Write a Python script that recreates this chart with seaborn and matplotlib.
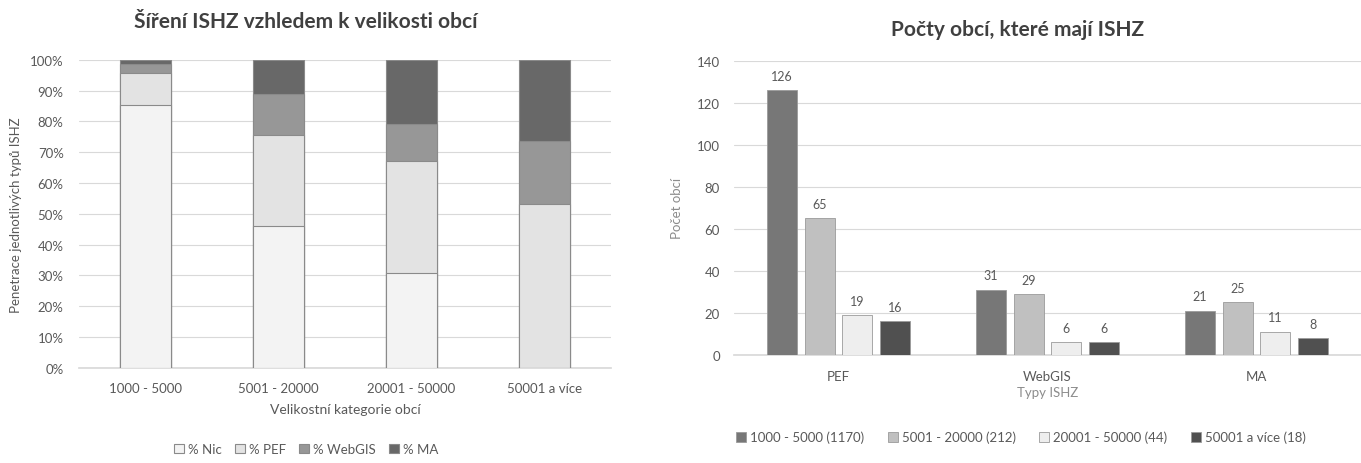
import matplotlib
matplotlib.use("Agg")
import matplotlib.pyplot as plt
from matplotlib.patches import Patch
import seaborn as sns
import pandas as pd
import numpy as np

# ---- data: left chart (share of ISHZ types by municipality size) ----
size_cats = ["1000 - 5000", "5001 - 20000", "20001 - 50000", "50001 a více"]
pct_nic = [85.2, 46.1, 30.8, 0.0]
pct_pef = [10.5, 29.4, 36.4, 53.1]
pct_webgis = [3.0, 13.5, 11.8, 20.4]
pct_ma = [1.3, 11.0, 21.0, 26.5]
left_series = ["% Nic", "% PEF", "% WebGIS", "% MA"]
left_colors = ["#f3f3f3", "#e3e3e3", "#979797", "#686868"]

# ---- data: right chart (counts of municipalities with ISHZ) ----
ishz_types = ["PEF", "WebGIS", "MA"]
groups = ["1000 - 5000 (1170)", "5001 - 20000 (212)", "20001 - 50000 (44)", "50001 a více (18)"]
cnt_1000_5000 = [126, 31, 21]
cnt_5001_20000 = [65, 29, 25]
cnt_20001_50000 = [19, 6, 11]
cnt_50001 = [16, 6, 8]
right_colors = ["#777777", "#c0c0c0", "#eeeeee", "#505050"]

sns.set_theme(style="white")
plt.rcParams['font.family'] = ['Lato', 'DejaVu Sans']
txt = "#595959"
grid_c = "#d9d9d9"

fig = plt.figure(figsize=(13.61, 4.64), dpi=100)

# ================= LEFT =================
axL = fig.add_axes([79/1361, 0.205, 532/1361, 0.664])
dfL = pd.DataFrame({"cat": size_cats, "nic": pct_nic, "pef": pct_pef,
                    "web": pct_webgis, "ma": pct_ma})
dfL["c1"] = dfL["nic"] / 100
dfL["c2"] = (dfL["nic"] + dfL["pef"]) / 100
dfL["c3"] = (dfL["nic"] + dfL["pef"] + dfL["web"]) / 100
dfL["c4"] = (dfL["nic"] + dfL["pef"] + dfL["web"] + dfL["ma"]) / 100
for col, colr in zip(["c4", "c3", "c2", "c1"], left_colors[::-1]):
    sns.barplot(data=dfL, x="cat", y=col, color=colr, width=0.39, ax=axL,
                edgecolor="#8a8a8a", linewidth=0.8, saturation=1, zorder=3)
axL.set_ylim(0, 1)
axL.set_xlim(-0.5, 3.5)
axL.set_yticks(np.arange(0, 1.01, 0.1))
axL.set_yticklabels([f"{int(round(v*100))}%" for v in np.arange(0, 1.01, 0.1)])
axL.yaxis.grid(True, color=grid_c, linewidth=0.8, zorder=0)
axL.set_axisbelow(True)
for s in ["top", "right", "left"]:
    axL.spines[s].set_visible(False)
axL.spines["bottom"].set_color(grid_c)
axL.tick_params(axis="both", length=0, labelsize=9.5, colors=txt)
axL.tick_params(axis="y", pad=11)
axL.tick_params(axis="x", pad=10)
axL.set_xlabel("Velikostní kategorie obcí", fontsize=10, color=txt, labelpad=7)
axL.set_ylabel("Penetrace jednotlivých typů ISHZ", fontsize=9.5, color=txt, labelpad=6)
axL.set_title("Šíření ISHZ vzhledem k velikosti obcí", fontsize=15, fontweight="bold",
              color="#404040", pad=0, y=1 + 39/308, va="center", x=(306-79)/532)
handlesL = [Patch(facecolor=c, edgecolor="#8a8a8a", linewidth=0.8, label=l)
            for c, l in zip(left_colors, left_series)]
fig.legend(handles=handlesL, loc="center", bbox_to_anchor=(306/1361, 1 - 450/464),
           ncol=4, frameon=False, fontsize=9.5, handlelength=0.75, handleheight=0.75,
           handletextpad=0.3, columnspacing=1.0, labelcolor=txt)

# ================= RIGHT =================
axR = fig.add_axes([734/1361, 0.233, 627/1361, 0.634])
dfR = pd.DataFrame({"type": ishz_types * 4,
                    "group": np.repeat(groups, 3),
                    "count": cnt_1000_5000 + cnt_5001_20000 + cnt_20001_50000 + cnt_50001})
sns.barplot(data=dfR, x="type", y="count", hue="group", order=ishz_types,
            hue_order=groups, palette=right_colors, width=0.72, gap=0.2,
            saturation=1, edgecolor="#9a9a9a", linewidth=0.6, ax=axR, zorder=3,
            legend=False)
for cont in axR.containers:
    axR.bar_label(cont, padding=6, fontsize=9, color=txt)
axR.set_ylim(0, 140)
axR.set_xlim(-0.5, 2.5)
axR.set_yticks(range(0, 141, 20))
axR.yaxis.grid(True, color=grid_c, linewidth=0.8, zorder=0)
axR.set_axisbelow(True)
for s in ["top", "right", "left"]:
    axR.spines[s].set_visible(False)
axR.spines["bottom"].set_color(grid_c)
axR.tick_params(axis="both", length=0, labelsize=9.5, colors=txt)
axR.tick_params(axis="y", pad=10)
axR.tick_params(axis="x", pad=11)
axR.set_xlabel("Typy ISHZ", fontsize=9.5, color="#8c8c8c", labelpad=3)
axR.set_ylabel("Počet obcí", fontsize=9.5, color="#8c8c8c", labelpad=10)
axR.set_title("Počty obcí, které mají ISHZ", fontsize=15, fontweight="bold",
              color="#404040", pad=0, y=1 + 32/294, va="center", x=(1018-734)/627)
handlesR = [Patch(facecolor=c, edgecolor="#9a9a9a", linewidth=0.6, label=l)
            for c, l in zip(right_colors, groups)]
fig.legend(handles=handlesR, loc="center", bbox_to_anchor=(1021/1361, 1 - 438/464),
           ncol=4, frameon=False, fontsize=9.5, handlelength=0.75, handleheight=0.75,
           handletextpad=0.3, columnspacing=1.8, labelcolor=txt)

fig.savefig("out.png", dpi=100, facecolor="white")
